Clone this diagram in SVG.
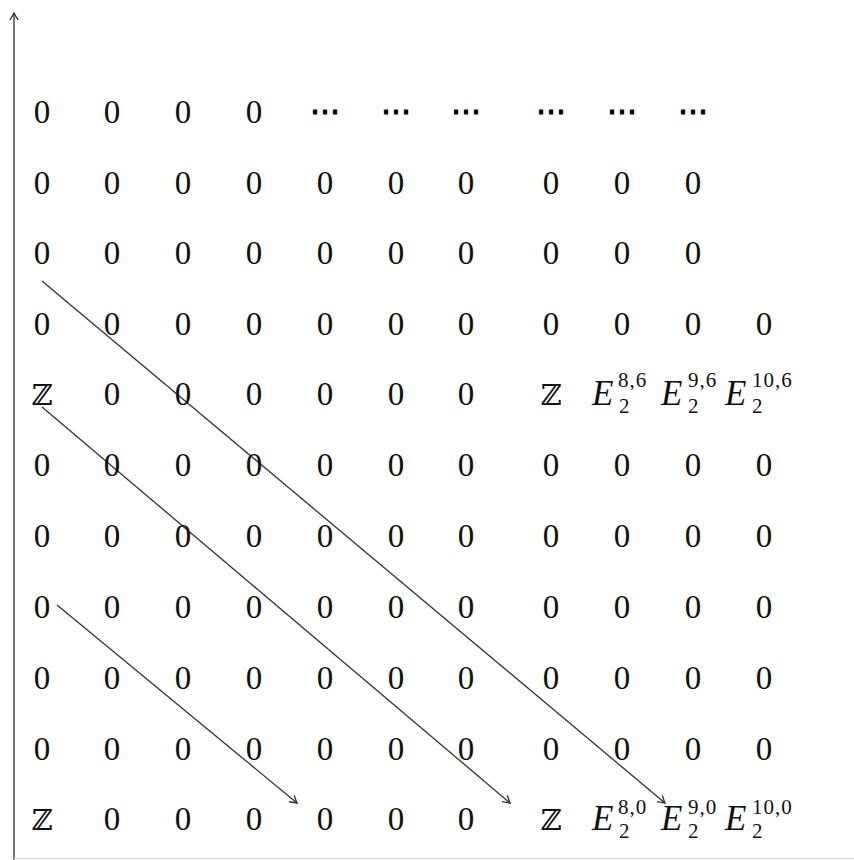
<svg xmlns="http://www.w3.org/2000/svg" width="854" height="860" viewBox="0 0 854 860">
<defs>
<style>
.t{font-family:"Liberation Serif","DejaVu Serif",serif;font-size:33px;fill:#111;text-anchor:middle}
.z{font-family:"DejaVu Serif","Liberation Serif",serif;font-size:29px;fill:#111;text-anchor:middle}
.d{font-family:"DejaVu Serif",serif;font-size:30px;font-weight:bold;fill:#000;text-anchor:middle}
.e{font-family:"Liberation Serif","DejaVu Serif",serif;font-size:35px;font-style:italic;fill:#111}
.s{font-family:"Liberation Serif","DejaVu Serif",serif;font-size:21px;fill:#111;letter-spacing:1px}
.ar{stroke:#333;stroke-width:1.3;fill:none}
</style>
<marker id="ah" markerUnits="userSpaceOnUse" markerWidth="14" markerHeight="14" refX="0" refY="0" viewBox="-8 -6 10 12" orient="auto">
<path d="M-6,-3.5 Q-2,-1 0,0 Q-2,1 -6,3.5" fill="none" stroke="#333" stroke-width="1.2"/>
</marker>
</defs>
<rect width="854" height="860" fill="#fff"/>
<g id="axes">
<line x1="14" y1="860" x2="14" y2="13" stroke="#555" stroke-width="1.6" marker-end="url(#ah)"/>
<line x1="14" y1="858.5" x2="854" y2="858.5" stroke="#ddd" stroke-width="1.5"/>
</g>
<g id="connectors">
<line class="ar" x1="42" y1="281" x2="665" y2="803" marker-end="url(#ah)"/>
<line class="ar" x1="42" y1="407" x2="510" y2="803" marker-end="url(#ah)"/>
<line class="ar" x1="57" y1="605" x2="297" y2="803" marker-end="url(#ah)"/>
</g>
<g id="row1">
<text class="t" x="42" y="123">0</text><text class="t" x="112" y="123">0</text><text class="t" x="183" y="123">0</text><text class="t" x="254" y="123">0</text>
<text class="d" x="325" y="121">⋯</text><text class="d" x="396" y="121">⋯</text><text class="d" x="466" y="121">⋯</text><text class="d" x="551" y="121">⋯</text><text class="d" x="622" y="121">⋯</text><text class="d" x="693" y="121">⋯</text>
</g>
<g id="row2">
<text class="t" x="42" y="194">0</text><text class="t" x="112" y="194">0</text><text class="t" x="183" y="194">0</text><text class="t" x="254" y="194">0</text><text class="t" x="325" y="194">0</text><text class="t" x="396" y="194">0</text><text class="t" x="466" y="194">0</text><text class="t" x="551" y="194">0</text><text class="t" x="622" y="194">0</text><text class="t" x="693" y="194">0</text>
</g>
<g id="row3">
<text class="t" x="42" y="264">0</text><text class="t" x="112" y="264">0</text><text class="t" x="183" y="264">0</text><text class="t" x="254" y="264">0</text><text class="t" x="325" y="264">0</text><text class="t" x="396" y="264">0</text><text class="t" x="466" y="264">0</text><text class="t" x="551" y="264">0</text><text class="t" x="622" y="264">0</text><text class="t" x="693" y="264">0</text>
</g>
<g id="row4">
<text class="t" x="42" y="335">0</text><text class="t" x="112" y="335">0</text><text class="t" x="183" y="335">0</text><text class="t" x="254" y="335">0</text><text class="t" x="325" y="335">0</text><text class="t" x="396" y="335">0</text><text class="t" x="466" y="335">0</text><text class="t" x="551" y="335">0</text><text class="t" x="622" y="335">0</text><text class="t" x="693" y="335">0</text><text class="t" x="764" y="335">0</text>
</g>
<g id="row5">
<text class="z" x="42" y="405">ℤ</text><text class="t" x="112" y="405">0</text><text class="t" x="183" y="405">0</text><text class="t" x="254" y="405">0</text><text class="t" x="325" y="405">0</text><text class="t" x="396" y="405">0</text><text class="t" x="466" y="405">0</text><text class="z" x="551" y="405">ℤ</text>
<g id="E86"><text class="e" x="592" y="405">E</text><text class="s" x="618" y="387">8,6</text><text class="s" x="619" y="413">2</text></g>
<g id="E96"><text class="e" x="661" y="405">E</text><text class="s" x="688" y="387">9,6</text><text class="s" x="688" y="413">2</text></g>
<g id="E106"><text class="e" x="725" y="405">E</text><text class="s" x="752" y="387">10,6</text><text class="s" x="752" y="413">2</text></g>
</g>
<g id="row6">
<text class="t" x="42" y="476">0</text><text class="t" x="112" y="476">0</text><text class="t" x="183" y="476">0</text><text class="t" x="254" y="476">0</text><text class="t" x="325" y="476">0</text><text class="t" x="396" y="476">0</text><text class="t" x="466" y="476">0</text><text class="t" x="551" y="476">0</text><text class="t" x="622" y="476">0</text><text class="t" x="693" y="476">0</text><text class="t" x="764" y="476">0</text>
</g>
<g id="row7">
<text class="t" x="42" y="547">0</text><text class="t" x="112" y="547">0</text><text class="t" x="183" y="547">0</text><text class="t" x="254" y="547">0</text><text class="t" x="325" y="547">0</text><text class="t" x="396" y="547">0</text><text class="t" x="466" y="547">0</text><text class="t" x="551" y="547">0</text><text class="t" x="622" y="547">0</text><text class="t" x="693" y="547">0</text><text class="t" x="764" y="547">0</text>
</g>
<g id="row8">
<text class="t" x="42" y="618">0</text><text class="t" x="112" y="618">0</text><text class="t" x="183" y="618">0</text><text class="t" x="254" y="618">0</text><text class="t" x="325" y="618">0</text><text class="t" x="396" y="618">0</text><text class="t" x="466" y="618">0</text><text class="t" x="551" y="618">0</text><text class="t" x="622" y="618">0</text><text class="t" x="693" y="618">0</text><text class="t" x="764" y="618">0</text>
</g>
<g id="row9">
<text class="t" x="42" y="689">0</text><text class="t" x="112" y="689">0</text><text class="t" x="183" y="689">0</text><text class="t" x="254" y="689">0</text><text class="t" x="325" y="689">0</text><text class="t" x="396" y="689">0</text><text class="t" x="466" y="689">0</text><text class="t" x="551" y="689">0</text><text class="t" x="622" y="689">0</text><text class="t" x="693" y="689">0</text><text class="t" x="764" y="689">0</text>
</g>
<g id="row10">
<text class="t" x="42" y="760">0</text><text class="t" x="112" y="760">0</text><text class="t" x="183" y="760">0</text><text class="t" x="254" y="760">0</text><text class="t" x="325" y="760">0</text><text class="t" x="396" y="760">0</text><text class="t" x="466" y="760">0</text><text class="t" x="551" y="760">0</text><text class="t" x="622" y="760">0</text><text class="t" x="693" y="760">0</text><text class="t" x="764" y="760">0</text>
</g>
<g id="row11">
<text class="z" x="42" y="830">ℤ</text><text class="t" x="112" y="830">0</text><text class="t" x="183" y="830">0</text><text class="t" x="254" y="830">0</text><text class="t" x="325" y="830">0</text><text class="t" x="396" y="830">0</text><text class="t" x="466" y="830">0</text><text class="z" x="551" y="830">ℤ</text>
<g id="E80"><text class="e" x="592" y="830">E</text><text class="s" x="618" y="814">8,0</text><text class="s" x="619" y="838">2</text></g>
<g id="E90"><text class="e" x="661" y="830">E</text><text class="s" x="688" y="814">9,0</text><text class="s" x="688" y="838">2</text></g>
<g id="E100"><text class="e" x="725" y="830">E</text><text class="s" x="752" y="814">10,0</text><text class="s" x="752" y="838">2</text></g>
</g>
</svg>
